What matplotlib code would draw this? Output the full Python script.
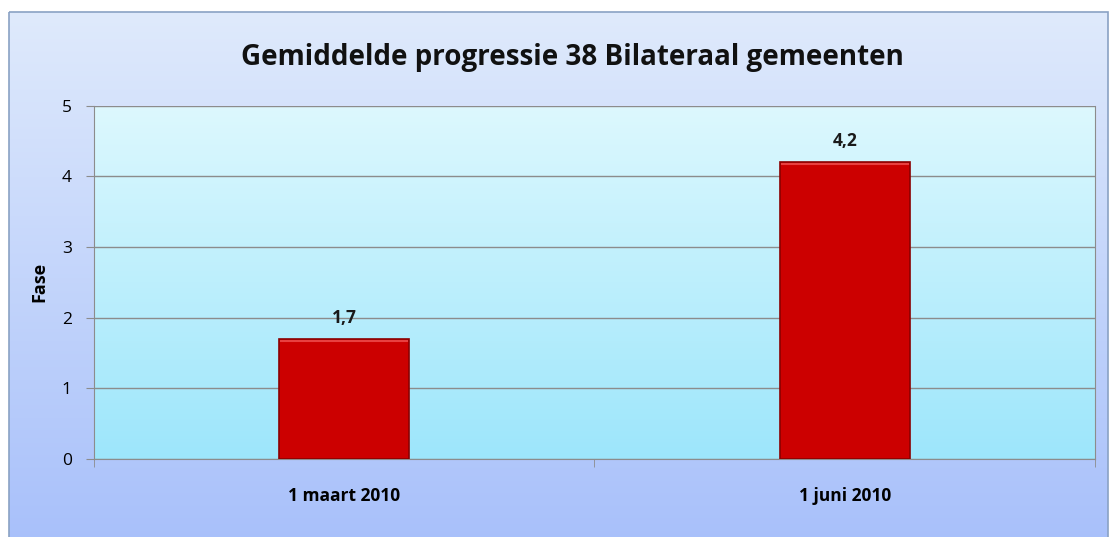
import numpy as np
import matplotlib.pyplot as plt
from matplotlib.colors import LinearSegmentedColormap
from matplotlib.patches import Rectangle

categories = ["1 maart 2010", "1 juni 2010"]
values = [1.7, 4.2]
value_labels = ["1,7", "4,2"]
title = "Gemiddelde progressie 38 Bilateraal gemeenten"
ylabel = "Fase"

plt.rcParams['font.family'] = ['Open Sans', 'DejaVu Sans']

fig = plt.figure(figsize=(11.18, 5.37), dpi=100)

# background of the chart area (frame with blue gradient)
bg = fig.add_axes([0, 0, 1, 1], zorder=-10)
bg.set_xlim(0, 1118)
bg.set_ylim(537, 0)
bg.axis("off")
outer_cmap = LinearSegmentedColormap.from_list("outer", ["#dfeafc", "#a8c0fa"])
grad = np.linspace(0, 1, 256).reshape(-1, 1)
bg.imshow(grad, cmap=outer_cmap, aspect="auto", extent=(9, 1108, 545, 12), zorder=0)
bg.add_patch(Rectangle((9, 12), 1099, 540, fill=False, edgecolor="#8aa2c4", linewidth=1.2, zorder=1))

ax = fig.add_axes([0.0841, 0.1453, 0.8953, 0.6581])
x = np.arange(len(categories))
inner_cmap = LinearSegmentedColormap.from_list("inner", ["#ddf8fe", "#9de6fb"])
ax.imshow(grad, cmap=inner_cmap, aspect="auto", extent=(-0.5, 1.5, 0, 5), zorder=0)

ax.set_xlim(-0.5, 1.5)
ax.set_ylim(0, 5)
ax.set_yticks(range(0, 6))
ax.yaxis.grid(True, color="#8c8c8c", linewidth=1)
ax.set_axisbelow(True)

bars = ax.bar(x, values, width=0.26, color="#cc0000", edgecolor="#8a0000",
              linewidth=1.2, zorder=3)
for rect in bars:
    # light top edge for a bevel look
    ax.plot([rect.get_x() + 0.004, rect.get_x() + rect.get_width() - 0.004],
            [rect.get_height() - 0.03] * 2, color="#e84040", linewidth=1.5, zorder=4)

for xi, v, lab in zip(x, values, value_labels):
    ax.text(xi, v + 0.17, lab, ha="center", va="bottom", fontsize=12.5,
            fontweight="bold", color="#1a1a1a")

ax.set_xticks(x)
ax.set_xticklabels(categories, fontsize=12.5, fontweight="bold")
ax.set_xticks([-0.5, 0.5, 1.5], minor=True)
ax.tick_params(axis="x", which="major", length=0, pad=20)
ax.tick_params(axis="x", which="minor", length=6, color="#8c8c8c")
ax.tick_params(axis="y", length=6, color="#8c8c8c", labelsize=12.5, pad=10)

ax.spines["top"].set_visible(False)
for s in ["left", "bottom", "right"]:
    ax.spines[s].set_color("#8c8c8c")

ax.set_ylabel(ylabel, fontsize=13, fontweight="bold", labelpad=10)
fig.text(0.512, 0.893, title, ha="center", va="center", fontsize=20, fontweight="bold",
         color="#111111")

fig.savefig("out.png", dpi=100)
